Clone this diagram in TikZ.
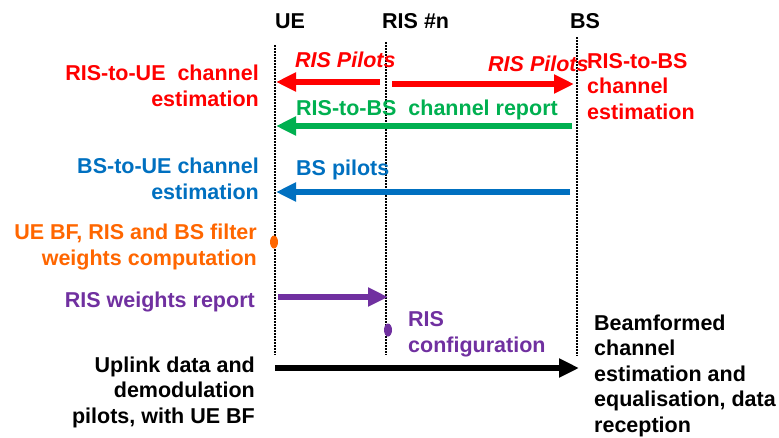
\documentclass[tikz,border=0pt]{standalone}
\usepackage{fontspec}
\setmainfont{Liberation Sans}
\usetikzlibrary{arrows.meta}
\definecolor{cred}{RGB}{255,0,0}
\definecolor{cgreen}{RGB}{0,176,80}
\definecolor{cblue}{RGB}{0,112,192}
\definecolor{corange}{RGB}{255,102,0}
\definecolor{cpurple}{RGB}{112,48,160}
\begin{document}
\begin{tikzpicture}[x=1pt,y=-1pt,
  txt/.style={font=\bfseries\fontsize{21.5}{25.5}\selectfont, inner sep=0pt},
  itxt/.style={font=\bfseries\itshape\fontsize{21.5}{25.5}\selectfont, inner sep=0pt},
  life/.style={line width=1.5pt, dash pattern=on 1.5pt off 1.5pt},
  msg/.style={line width=5.5pt, -{Triangle[length=20pt,width=18pt]}},
  ]
\useasboundingbox (0,0) rectangle (779,437);
% headers
\node[txt, anchor=base west] (hUE) at (275,28) {UE};
\node[txt, anchor=base west] (hRIS) at (382,28) {RIS \#n};
\node[txt, anchor=base west] (hBS) at (570,28) {BS};
% lifelines
\coordinate (ueTop) at (275,45);  \coordinate (ueBot) at (275,355);
\coordinate (risTop) at (386,42); \coordinate (risBot) at (386,355);
\coordinate (bsTop) at (577,37);  \coordinate (bsBot) at (577,356);
\draw[life] (ueTop) -- (ueBot);
\draw[life] (risTop) -- (risBot);
\draw[life] (bsTop) -- (bsBot);
% arrow end points
\coordinate (a1s) at (380,82);  \coordinate (a1e) at (276,82);
\coordinate (a2s) at (392,84);  \coordinate (a2e) at (574,84);
\coordinate (a3s) at (572,126); \coordinate (a3e) at (276,126);
\coordinate (a4s) at (570,192); \coordinate (a4e) at (276,192);
\coordinate (a5s) at (278,297); \coordinate (a5e) at (388,297);
\coordinate (a6s) at (275,368); \coordinate (a6e) at (579,368);
\draw[msg, cred] (a1s) -- (a1e);
\draw[msg, cred] (a2s) -- (a2e);
\draw[msg, cgreen] (a3s) -- (a3e);
\draw[msg, cblue] (a4s) -- (a4e);
\draw[msg, cpurple] (a5s) -- (a5e);
\draw[msg, black, line width=6pt] (a6s) -- (a6e);
% dots
\fill[corange] (274,242) ellipse [x radius=4pt, y radius=6.5pt];
\fill[cpurple] (388,330) ellipse [x radius=4pt, y radius=6.5pt];
% left labels
\node[txt, cred, align=right, anchor=base east] (t1) at (259,106) {RIS-to-UE\ \ channel\\estimation};
\node[txt, cblue, align=right, anchor=base east] (t2) at (259,199) {BS-to-UE channel\\estimation};
\node[txt, corange, align=right, anchor=base east] (t3) at (257,265) {UE BF, RIS and BS filter\\weights computation};
\node[txt, cpurple, align=right, anchor=base east] (t4) at (255,307) {RIS weights report};
\node[txt, black, align=right, anchor=base east] (t5) at (255,423) {Uplink data and\\demodulation\\pilots, with UE BF};
% right labels
\node[txt, cred, align=left, anchor=base west] (t6) at (587,119) {RIS-to-BS\\channel\\estimation};
\node[txt, black, align=left, anchor=base west] (t7) at (594,432) {Beamformed\\channel\\estimation and\\equalisation, data\\reception};
% message labels
\node[itxt, cred, anchor=base west] (m1) at (295,67) {RIS Pilots};
\node[itxt, cred, anchor=base west] (m2) at (488,71) {RIS Pilots};
\node[txt, cgreen, anchor=base west] (m3) at (296,115) {RIS-to-BS\ \ channel report};
\node[txt, cblue, anchor=base west] (m4) at (296,175) {BS pilots};
\node[txt, cpurple, align=left, anchor=base west] (m5) at (408,352) {RIS\\configuration};
\end{tikzpicture}
\end{document}
